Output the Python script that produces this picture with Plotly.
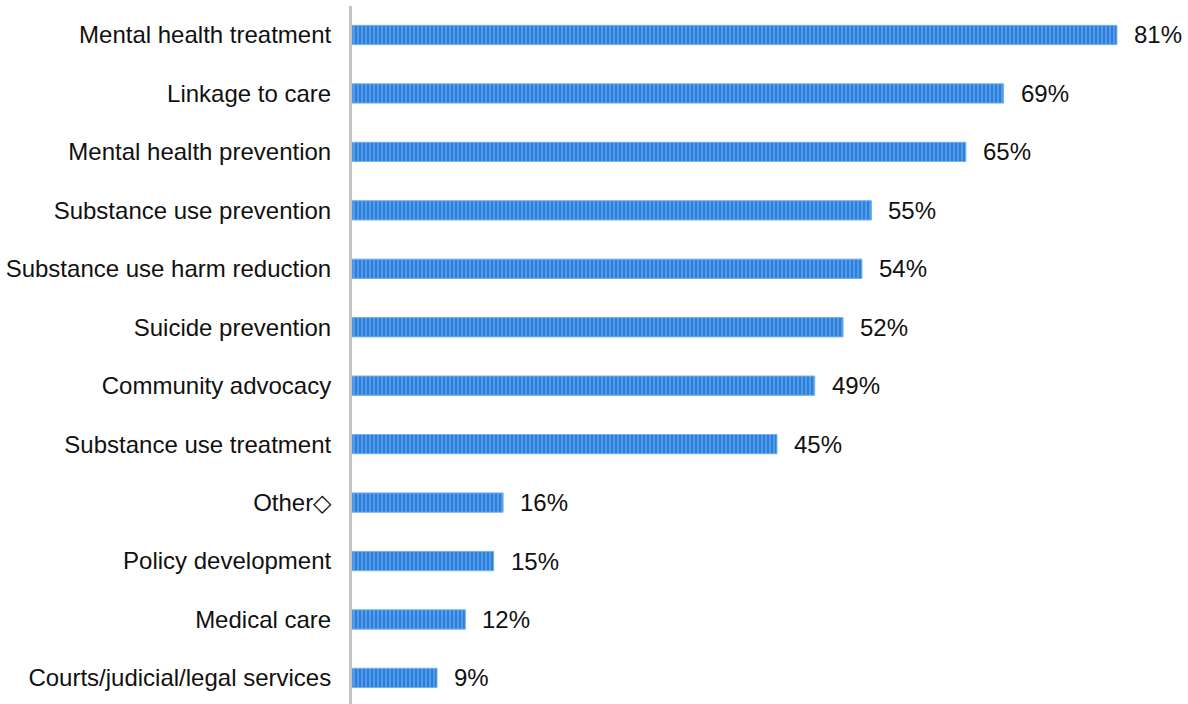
import plotly.graph_objects as go

# Service areas and share of respondents (%)
categories = [
    "Mental health treatment",
    "Linkage to care",
    "Mental health prevention",
    "Substance use prevention",
    "Substance use harm reduction",
    "Suicide prevention",
    "Community advocacy",
    "Substance use treatment",
    "Other\u25c7",
    "Policy development",
    "Medical care",
    "Courts/judicial/legal services",
]
values = [81, 69, 65, 55, 54, 52, 49, 45, 16, 15, 12, 9]
labels = [f"{v}%" for v in values]

# plot bottom-up so the first category sits at the top
cats_r = categories[::-1]
vals_r = values[::-1]
labs_r = labels[::-1]

FONT = "Liberation Sans, Arial, sans-serif"

fig = go.Figure(
    go.Bar(
        x=vals_r,
        y=cats_r,
        orientation="h",
        width=0.33,
        marker=dict(
            color="#2A7FDC",
            line=dict(color="#72B0EE", width=1),
            pattern=dict(
                shape="|",
                fgcolor="#7DB6EF",
                size=4,
                solidity=0.5,
                fillmode="overlay",
            ),
        ),
        hoverinfo="skip",
    )
)

for c, v, t in zip(cats_r, vals_r, labs_r):
    fig.add_annotation(
        x=v, y=c, text=t, showarrow=False,
        xanchor="left", xshift=15,
        font=dict(family=FONT, size=24, color="#111111"),
    )

fig.update_layout(
    width=1188,
    height=704,
    margin=dict(l=352, r=5, t=6, b=0),
    plot_bgcolor="white",
    paper_bgcolor="white",
    showlegend=False,
    font=dict(family=FONT, size=24, color="#111111"),
    xaxis=dict(
        range=[0, 88],
        visible=False,
        showgrid=False,
        zeroline=False,
    ),
    yaxis=dict(
        type="category",
        categoryorder="array",
        categoryarray=cats_r,
        range=[-0.446, 11.496],
        showline=True,
        linecolor="#C4C4C4",
        linewidth=3,
        showgrid=False,
        zeroline=False,
        ticks="",
        ticklabelstandoff=13,
        tickfont=dict(size=24, color="#111111"),
    ),
)

fig.write_html("out.html")
